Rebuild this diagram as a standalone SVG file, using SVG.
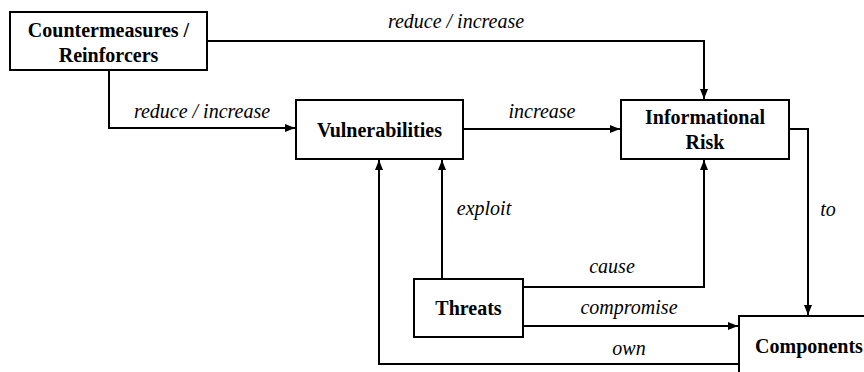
<svg xmlns="http://www.w3.org/2000/svg" width="864" height="372" viewBox="0 0 864 372">
<style>
.box{fill:#fff;stroke:#000;stroke-width:2}
text{font-family:'Liberation Serif',Tinos,'Times New Roman',Times,'DejaVu Serif',serif;font-size:20px;text-anchor:middle;fill:#000}
.node{font-weight:bold}
.lbl{font-style:italic}
.edge{fill:none;stroke:#000;stroke-width:2;marker-end:url(#arr)}
</style>
<defs>
<marker id="arr" viewBox="0 0 10 10" refX="10" refY="5" markerWidth="10" markerHeight="10" markerUnits="userSpaceOnUse" orient="auto">
<path d="M0,1 L10,5 L0,9 Z" fill="#000"/>
</marker>
</defs>
<rect width="864" height="372" fill="#fff"/>
<g id="connectors">
<path class="edge" d="M207,41 H704 V99"/>
<path class="edge" d="M109,70 V128 H295"/>
<path class="edge" d="M463,129 H620"/>
<path class="edge" d="M789,129 H808 V315"/>
<path class="edge" d="M442,279 V160"/>
<path class="edge" d="M523,287 H704 V160"/>
<path class="edge" d="M523,326 H738"/>
<path class="edge" d="M739,364 H379 V160"/>
</g>
<g id="edge-labels">
<text class="lbl" x="456" y="28">reduce / increase</text>
<text class="lbl" x="202" y="118">reduce / increase</text>
<text class="lbl" x="542" y="118">increase</text>
<text class="lbl" x="828" y="216">to</text>
<text class="lbl" x="484" y="215">exploit</text>
<text class="lbl" x="612" y="273">cause</text>
<text class="lbl" x="629" y="314">compromise</text>
<text class="lbl" x="629" y="355">own</text>
</g>
<g id="countermeasures">
<rect class="box" x="10" y="12" width="197" height="58"/>
<text class="node" x="108.5" y="37">Countermeasures /</text>
<text class="node" x="108.5" y="62">Reinforcers</text>
</g>
<g id="vulnerabilities">
<rect class="box" x="296" y="100" width="167" height="59"/>
<text class="node" x="379.5" y="137">Vulnerabilities</text>
</g>
<g id="informational-risk">
<rect class="box" x="621" y="100" width="168" height="59"/>
<text class="node" x="705" y="124">Informational</text>
<text class="node" x="705" y="149">Risk</text>
</g>
<g id="threats">
<rect class="box" x="414" y="279" width="109" height="58"/>
<text class="node" x="468.5" y="315">Threats</text>
</g>
<g id="components">
<rect class="box" x="739" y="316" width="170" height="70"/>
<text class="node" x="809" y="353">Components</text>
</g>
</svg>
